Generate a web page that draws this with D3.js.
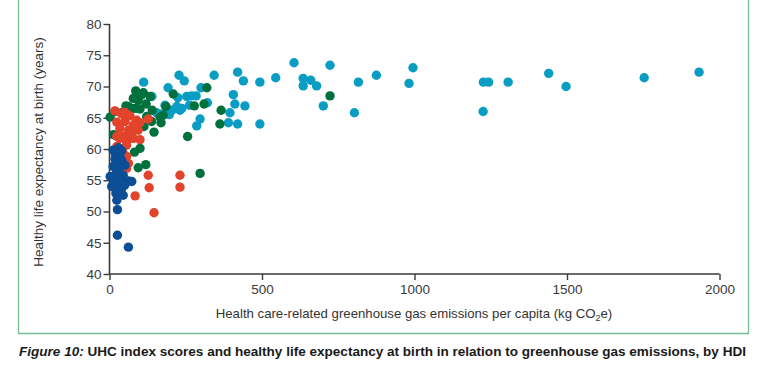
<!DOCTYPE html>
<html><head><meta charset="utf-8">
<script src="https://cdn.jsdelivr.net/npm/d3@7"></script>
<style>
html,body{margin:0;padding:0;background:#fff;}
svg{display:block;}
</style></head>
<body>
<svg id="chart" width="761" height="366"></svg>
<script>
// Groups (HDI) drawn in this order
const groups = ["Very high HDI", "High HDI", "Medium HDI", "Low HDI"];
const groupColors = ["#0a9dc4", "#00703c", "#e2432b", "#0b4e96"];

// [emissions per capita (kg CO2e), healthy life expectancy (years)]
const veryHigh = [
  [1933,72.3],[1753,71.4],[1497,70.0],[1440,72.1],[1307,70.7],[1243,70.7],[1226,70.7],[1225,66.0],
  [995,73.0],[982,70.5],[875,71.8],[816,70.7],[803,65.8],[723,73.4],[701,66.9],[679,70.1],
  [660,71.0],[635,71.3],[635,70.1],[605,73.8],[545,71.4],[493,70.7],[493,64.0],[439,70.9],
  [420,72.3],[444,66.9],[411,67.2],[406,68.7],[395,65.8],[390,64.2],[420,64.0],[343,71.8],
  [321,67.4],[300,69.8],[297,64.8],[286,63.7],[284,68.5],[269,68.5],[245,70.9],[228,71.8],
  [231,66.2],[224,68.2],[192,69.8],[139,68.4],[112,70.7],[182,67.0],[205,66.2],[221,66.8],
  [237,66.5],[171,65.6],[154,65.8],[253,68.4],[196,65.5],[262,67.0]
];
const high = [
  [2,65.1],[18,66.0],[13,62.3],[54,66.9],[62,66.8],[86,69.3],[111,69.0],[133,68.4],
  [94,67.8],[78,68.1],[78,66.5],[100,66.4],[140,66.2],[122,65.2],[113,63.6],[146,62.7],
  [169,64.2],[185,66.8],[209,68.8],[256,62.0],[278,66.9],[310,67.2],[319,69.8],[366,66.2],
  [362,64.0],[723,68.5],[100,60.1],[82,59.5],[119,57.5],[94,57.0],[297,56.1],[176,65.4],
  [138,64.4],[89,66.5],[40,65.8],[166,65.1],[104,68.6],[120,67.2]
];
const medium = [
  [18,66.1],[40,65.6],[67,65.3],[89,64.6],[127,64.8],[24,64.3],[51,64.4],[78,63.8],
  [34,63.3],[62,63.0],[94,63.0],[45,62.0],[78,61.7],[100,61.5],[24,62.0],[67,61.8],
  [56,61.2],[34,61.7],[24,60.4],[56,60.6],[45,59.3],[56,58.8],[62,57.7],[40,56.4],
  [56,56.9],[127,55.8],[130,53.8],[231,55.8],[231,53.9],[84,52.5],[146,49.8],[50,65.9],
  [100,64.2],[72,62.6],[36,59.9]
];
const low = [
  [12,59.8],[30,60.2],[40,59.7],[20,59.0],[18,58.4],[40,58.2],[12,57.2],[30,56.9],
  [51,57.4],[18,55.8],[45,55.8],[24,56.4],[62,54.9],[7,54.0],[30,54.0],[2,55.6],
  [21,52.9],[45,52.6],[24,51.8],[40,53.7],[73,54.8],[26,50.3],[26,46.2],[62,44.3],
  [35,58.5],[28,57.7],[15,55.0],[35,55.3],[50,54.2]
];
const seriesData = [veryHigh, high, medium, low];

const xTicks = [0, 500, 1000, 1500, 2000];
const yTicks = [40, 45, 50, 55, 60, 65, 70, 75, 80];

const xTitle = "Health care-related greenhouse gas emissions per capita (kg CO";
const yTitle = "Healthy life expectancy at birth (years)";
const captionLead = "Figure 10:";
const captionText = " UHC index scores and healthy life expectancy at birth in relation to greenhouse gas emissions, by HDI";

const svg = d3.select("#chart");
const font = "'Liberation Sans', Arial, sans-serif";

// frame (green border, top off-picture)
svg.append("path")
  .attr("d", "M18.5,-2 V333.5 H748.5 V-2")
  .attr("fill", "none").attr("stroke", "#74bf98").attr("stroke-width", 1.3);

const x = d3.scaleLinear().domain([0, 2000]).range([109.5, 719.5]);
const y = d3.scaleLinear().domain([40, 80]).range([274, 24]);

const xAxis = svg.append("g").attr("transform", "translate(0,274)")
  .call(d3.axisBottom(x).tickValues(xTicks).tickSize(6).tickPadding(4).tickFormat(d3.format("d")));
const yAxis = svg.append("g").attr("transform", "translate(109.5,0)")
  .call(d3.axisLeft(y).tickValues(yTicks).tickSize(6).tickPadding(2).tickFormat(d3.format("d")));

[xAxis, yAxis].forEach(g => {
  g.select(".domain").attr("stroke", "#3a3a3a").attr("stroke-width", 1.6);
  g.selectAll(".tick line").attr("stroke", "#3a3a3a").attr("stroke-width", 1.4);
  g.selectAll(".tick text").attr("fill", "#3a3a3a").style("font-family", font).style("font-size", "13.5px");
});
xAxis.select(".domain").attr("d", `M${x(0)},0H${x(2000)}`);
yAxis.select(".domain").attr("d", `M0,${y(80)}V${y(40)}`);

// points
seriesData.forEach((arr, i) => {
  svg.append("g").selectAll("circle").data(arr).join("circle")
    .attr("cx", d => x(d[0])).attr("cy", d => y(d[1]))
    .attr("r", 4.7).attr("fill", groupColors[i]);
});

// x title
const xt = svg.append("text").attr("x", 414).attr("y", 318).attr("text-anchor", "middle")
  .style("font-family", font).style("font-size", "13.2px").attr("fill", "#333");
xt.append("tspan").text(xTitle);
xt.append("tspan").text("2").attr("font-size", "9px").attr("dy", 3);
xt.append("tspan").text("e)").attr("dy", -3);

// y title
svg.append("text").attr("transform", "translate(43,152) rotate(-90)").attr("text-anchor", "middle")
  .style("font-family", font).style("font-size", "13.5px").attr("fill", "#333").text(yTitle);

// caption
const cap = svg.append("text").attr("x", 19).attr("y", 356)
  .style("font-family", font).style("font-size", "13.5px").attr("fill", "#1a1a1a")
  .style("font-weight", "bold")
  .attr("textLength", 727).attr("lengthAdjust", "spacingAndGlyphs");
cap.append("tspan").text(captionLead).style("font-style", "italic");
cap.append("tspan").text(captionText);
</script>
</body></html>
